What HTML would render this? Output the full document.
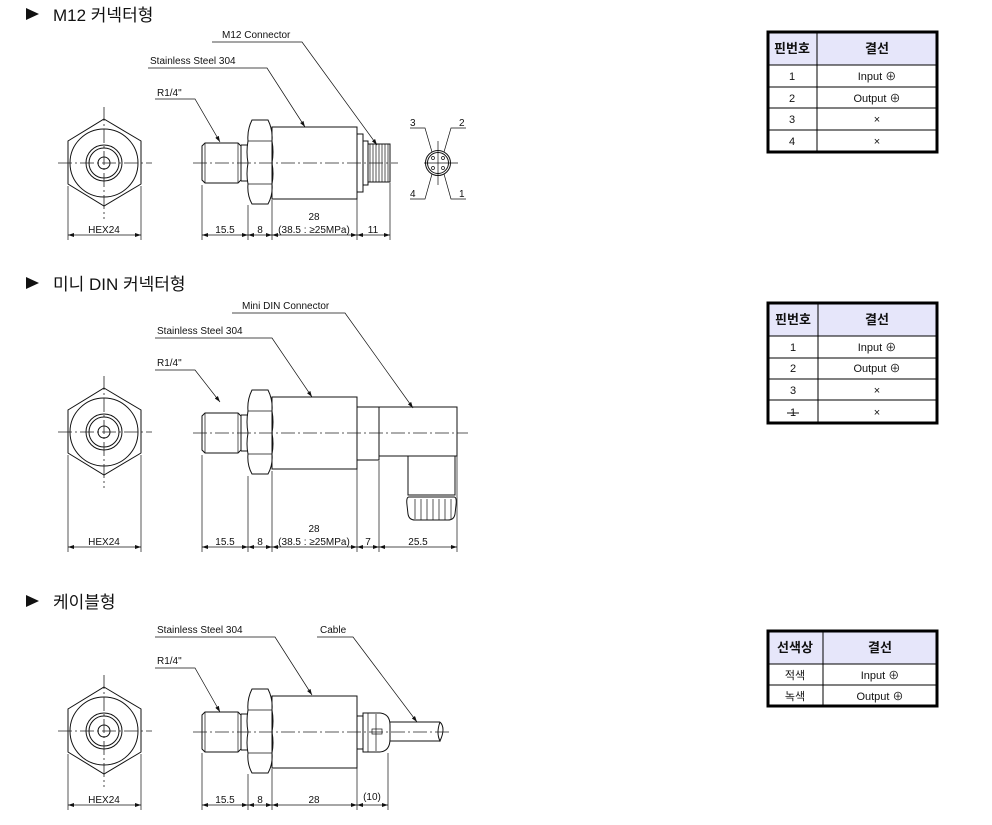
<!DOCTYPE html>
<html><head><meta charset="utf-8"><style>
html,body{margin:0;padding:0;background:#fff;}
svg{display:block;}
text{font-family:"Liberation Sans","Noto Sans CJK KR",sans-serif;fill:#111;}
.l{stroke:#111;stroke-width:1;fill:none;}
.t{stroke:#111;stroke-width:0.7;fill:none;}
.c{stroke:#222;stroke-width:0.8;fill:none;stroke-dasharray:14 3 2 3;}
.s{font-size:10px;}
.h{font-size:17px;}
.tb{font-size:11px;}
.tbh{font-size:13px;font-weight:bold;}
</style></head><body>
<svg width="992" height="825" viewBox="0 0 992 825" xmlns="http://www.w3.org/2000/svg">
<defs>
<marker id="a" markerWidth="6" markerHeight="4" refX="6" refY="2" orient="auto" markerUnits="userSpaceOnUse"><path d="M0,0 L6,2 L0,4 z" fill="#111"/></marker>
<marker id="as" markerWidth="6" markerHeight="4" refX="0" refY="2" orient="auto" markerUnits="userSpaceOnUse"><path d="M6,0 L0,2 L6,4 z" fill="#111"/></marker>
<g id="front">
<polygon class="l" points="104,-44 141,-22 141,21 104,43 68,21 68,-22"/>
<circle class="l" cx="104" cy="0" r="34"/>
<circle class="l" cx="104" cy="0" r="18"/>
<circle class="l" cx="104" cy="0" r="15"/>
<circle class="l" cx="104" cy="0" r="6"/>
<line class="c" x1="58" y1="0" x2="152" y2="0"/>
<line class="c" x1="104" y1="-56" x2="104" y2="56"/>
</g>
<g id="side">
<path class="l" d="M205,-20 L238,-20 L241,-17 L241,17 L238,20 L205,20 L202,17 L202,-17 Z"/>
<line class="t" x1="205" y1="-20" x2="205" y2="20"/>
<line class="t" x1="238" y1="-20" x2="238" y2="20"/>
<line class="l" x1="241" y1="-18" x2="248" y2="-18"/>
<line class="l" x1="241" y1="18" x2="248" y2="18"/>
<line class="l" x1="241" y1="-18" x2="241" y2="18"/>
<path class="l" d="M252,-43 L268,-43 Q273,-33 272,-22 Q274,-11 272,0 Q274,11 272,21 Q273,32 268,41 L252,41 Q247,32 248,21 Q246,11 248,0 Q246,-11 248,-22 Q247,-33 252,-43 Z"/>
<line class="t" x1="248" y1="-22" x2="272" y2="-22"/>
<line class="t" x1="248" y1="21" x2="272" y2="21"/>
<rect class="l" x="272" y="-36" width="85" height="72"/>
</g>
</defs>

<polygon points="26,8 39,14 26,20" fill="#111"/>
<text class="h" x="53" y="21">M12  커넥터형</text>
<polygon points="26,277 39,283 26,289" fill="#111"/>
<text class="h" x="53" y="290">미니  DIN  커넥터형</text>
<polygon points="26,595 39,601 26,607" fill="#111"/>
<text class="h" x="53" y="608">케이블형</text>

<use href="#front" transform="translate(0,163)"/>
<use href="#side" transform="translate(0,163)"/>
<rect class="l" x="357" y="134" width="6" height="58"/>
<rect class="l" x="363" y="141" width="5" height="44"/>
<rect class="l" x="368" y="144" width="22" height="38"/>
<path class="t" d="M370,144 V182 M373,144 V182 M376,144 V182 M379,144 V182 M382,144 V182 M385,144 V182 M388,144 V182"/>
<line class="c" x1="193" y1="163" x2="398" y2="163"/>
<circle class="l" cx="438" cy="163" r="12.5"/>
<circle class="l" cx="438" cy="163" r="10.5"/>
<circle class="t" cx="433" cy="158" r="1.5"/><circle class="t" cx="443" cy="158" r="1.5"/>
<circle class="t" cx="433" cy="168" r="1.5"/><circle class="t" cx="443" cy="168" r="1.5"/>
<line class="t" x1="424" y1="163" x2="458" y2="163"/>
<line class="t" x1="438" y1="141" x2="438" y2="185"/>
<text class="s" x="410" y="126">3</text><text class="s" x="459" y="126">2</text>
<text class="s" x="410" y="197">4</text><text class="s" x="459" y="197">1</text>
<path class="t" d="M410,128 H425 L432,152"/><path class="t" d="M466,128 H451 L444,152"/>
<path class="t" d="M410,199 H425 L432,174"/><path class="t" d="M466,199 H451 L444,174"/>
<text class="s" x="157" y="96">R1/4"</text>
<path class="t" d="M155,99 H195 L220,142" marker-end="url(#a)"/>
<text class="s" x="150" y="64">Stainless Steel 304</text>
<path class="t" d="M148,68 H267 L305,127" marker-end="url(#a)"/>
<text class="s" x="222" y="38">M12 Connector</text>
<path class="t" d="M212,42 H302 L377,145" marker-end="url(#a)"/>
<path class="t" d="M68,186 V240 M141,186 V240 M202,185 V240 M248,205 V240 M272,200 V240 M357,193 V240 M390,183 V240"/>
<line class="t" x1="68" y1="235" x2="141" y2="235" marker-start="url(#as)" marker-end="url(#a)"/>
<line class="t" x1="202" y1="235" x2="248" y2="235" marker-start="url(#as)" marker-end="url(#a)"/>
<line class="t" x1="248" y1="235" x2="272" y2="235" marker-start="url(#as)" marker-end="url(#a)"/>
<line class="t" x1="272" y1="235" x2="357" y2="235" marker-start="url(#as)" marker-end="url(#a)"/>
<line class="t" x1="357" y1="235" x2="390" y2="235" marker-start="url(#as)" marker-end="url(#a)"/>
<text class="s" x="104" y="233" text-anchor="middle">HEX24</text>
<text class="s" x="225" y="233" text-anchor="middle">15.5</text>
<text class="s" x="260" y="233" text-anchor="middle">8</text>
<text class="s" x="314" y="220" text-anchor="middle">28</text>
<text class="s" x="314" y="233" text-anchor="middle">(38.5 : ≥25MPa)</text>
<text class="s" x="373" y="233" text-anchor="middle">11</text>

<use href="#front" transform="translate(0,432)"/>
<use href="#side" transform="translate(0,433)"/>
<rect class="l" x="357" y="407" width="22" height="53"/>
<rect class="l" x="379" y="407" width="78" height="49"/>
<rect class="l" x="408" y="456" width="47" height="39"/>
<path class="l" d="M409,497 H454 Q457,497 456,505 L455,514 Q454,520 448,520 H415 Q409,520 408,514 L407,505 Q406,497 409,497 Z"/>
<path class="t" d="M415,499 V519 M421,499 V520 M427,499 V520 M433,499 V520 M439,499 V520 M445,499 V520 M451,499 V519"/>
<line class="c" x1="193" y1="433" x2="468" y2="433"/>
<text class="s" x="157" y="366">R1/4"</text>
<path class="t" d="M155,370 H195 L220,402" marker-end="url(#a)"/>
<text class="s" x="157" y="334">Stainless Steel 304</text>
<path class="t" d="M155,338 H272 L312,397" marker-end="url(#a)"/>
<text class="s" x="242" y="309">Mini DIN Connector</text>
<path class="t" d="M232,313 H345 L413,408" marker-end="url(#a)"/>
<path class="t" d="M68,455 V552 M141,455 V552 M202,455 V552 M248,476 V552 M272,471 V552 M357,461 V552 M379,461 V552 M457,456 V552"/>
<line class="t" x1="68" y1="547" x2="141" y2="547" marker-start="url(#as)" marker-end="url(#a)"/>
<line class="t" x1="202" y1="547" x2="248" y2="547" marker-start="url(#as)" marker-end="url(#a)"/>
<line class="t" x1="248" y1="547" x2="272" y2="547" marker-start="url(#as)" marker-end="url(#a)"/>
<line class="t" x1="272" y1="547" x2="357" y2="547" marker-start="url(#as)" marker-end="url(#a)"/>
<line class="t" x1="357" y1="547" x2="379" y2="547" marker-start="url(#as)" marker-end="url(#a)"/>
<line class="t" x1="379" y1="547" x2="457" y2="547" marker-start="url(#as)" marker-end="url(#a)"/>
<text class="s" x="104" y="545" text-anchor="middle">HEX24</text>
<text class="s" x="225" y="545" text-anchor="middle">15.5</text>
<text class="s" x="260" y="545" text-anchor="middle">8</text>
<text class="s" x="314" y="532" text-anchor="middle">28</text>
<text class="s" x="314" y="545" text-anchor="middle">(38.5 : ≥25MPa)</text>
<text class="s" x="368" y="545" text-anchor="middle">7</text>
<text class="s" x="418" y="545" text-anchor="middle">25.5</text>

<use href="#front" transform="translate(0,731)"/>
<use href="#side" transform="translate(0,732)"/>
<rect class="l" x="357" y="716" width="6" height="33"/>
<path class="l" d="M363,713 H380 Q390,714 390,725 V739 Q390,751 380,752 H363 Z"/>
<path class="t" d="M368,713 V752 M376,714 V751"/>
<rect class="t" x="372" y="729" width="10" height="5"/>
<path class="l" d="M390,722 H440 M390,741 H440"/>
<path class="l" d="M440,722 Q446,728 440,741 Q436,733 440,722"/>
<line class="c" x1="193" y1="732" x2="452" y2="732"/>
<text class="s" x="157" y="664">R1/4"</text>
<path class="t" d="M155,668 H195 L220,712" marker-end="url(#a)"/>
<text class="s" x="157" y="633">Stainless Steel 304</text>
<path class="t" d="M155,637 H275 L312,695" marker-end="url(#a)"/>
<text class="s" x="320" y="633">Cable</text>
<path class="t" d="M317,637 H353 L417,722" marker-end="url(#a)"/>
<path class="t" d="M68,754 V810 M141,754 V810 M202,753 V810 M248,774 V810 M272,769 V810 M357,750 V810 M388,753 V810"/>
<line class="t" x1="68" y1="805" x2="141" y2="805" marker-start="url(#as)" marker-end="url(#a)"/>
<line class="t" x1="202" y1="805" x2="248" y2="805" marker-start="url(#as)" marker-end="url(#a)"/>
<line class="t" x1="248" y1="805" x2="272" y2="805" marker-start="url(#as)" marker-end="url(#a)"/>
<line class="t" x1="272" y1="805" x2="357" y2="805" marker-start="url(#as)" marker-end="url(#a)"/>
<line class="t" x1="357" y1="805" x2="388" y2="805" marker-start="url(#as)" marker-end="url(#a)"/>
<text class="s" x="104" y="803" text-anchor="middle">HEX24</text>
<text class="s" x="225" y="803" text-anchor="middle">15.5</text>
<text class="s" x="260" y="803" text-anchor="middle">8</text>
<text class="s" x="314" y="803" text-anchor="middle">28</text>
<text class="s" x="372" y="800" text-anchor="middle">(10)</text>

<rect x="768" y="32" width="169" height="33" fill="#e6e6fa"/>
<rect x="768" y="32" width="169" height="120" fill="none" stroke="#000" stroke-width="3"/>
<path d="M817,32 V152 M768,65 H937 M768,87 H937 M768,108 H937 M768,130 H937" stroke="#000" stroke-width="1"/>
<text class="tbh" x="792" y="53" text-anchor="middle">핀번호</text>
<text class="tbh" x="877" y="53" text-anchor="middle">결선</text>
<text class="tb" x="792" y="80" text-anchor="middle">1</text><text class="tb" x="877" y="80" text-anchor="middle">Input ⊕</text>
<text class="tb" x="792" y="102" text-anchor="middle">2</text><text class="tb" x="877" y="102" text-anchor="middle">Output ⊕</text>
<text class="tb" x="792" y="123" text-anchor="middle">3</text><text class="tb" x="877" y="123" text-anchor="middle">×</text>
<text class="tb" x="792" y="145" text-anchor="middle">4</text><text class="tb" x="877" y="145" text-anchor="middle">×</text>

<rect x="768" y="303" width="169" height="33" fill="#e6e6fa"/>
<rect x="768" y="303" width="169" height="120" fill="none" stroke="#000" stroke-width="3"/>
<path d="M818,303 V423 M768,336 H937 M768,358 H937 M768,379 H937 M768,400 H937" stroke="#000" stroke-width="1"/>
<text class="tbh" x="793" y="324" text-anchor="middle">핀번호</text>
<text class="tbh" x="877" y="324" text-anchor="middle">결선</text>
<text class="tb" x="793" y="351" text-anchor="middle">1</text><text class="tb" x="877" y="351" text-anchor="middle">Input ⊕</text>
<text class="tb" x="793" y="372" text-anchor="middle">2</text><text class="tb" x="877" y="372" text-anchor="middle">Output ⊕</text>
<text class="tb" x="793" y="394" text-anchor="middle">3</text><text class="tb" x="877" y="394" text-anchor="middle">×</text>
<text class="tb" x="793" y="416" text-anchor="middle">1</text><text class="tb" x="877" y="416" text-anchor="middle">×</text>
<line x1="787" y1="413" x2="799" y2="413" stroke="#111" stroke-width="1"/>

<rect x="768" y="631" width="169" height="33" fill="#e6e6fa"/>
<rect x="768" y="631" width="169" height="75" fill="none" stroke="#000" stroke-width="3"/>
<path d="M823,631 V706 M768,664 H937 M768,685 H937" stroke="#000" stroke-width="1"/>
<text class="tbh" x="795" y="652" text-anchor="middle">선색상</text>
<text class="tbh" x="880" y="652" text-anchor="middle">결선</text>
<text class="tb" x="795" y="679" text-anchor="middle">적색</text><text class="tb" x="880" y="679" text-anchor="middle">Input ⊕</text>
<text class="tb" x="795" y="700" text-anchor="middle">녹색</text><text class="tb" x="880" y="700" text-anchor="middle">Output ⊕</text>
</svg>
</body></html>
